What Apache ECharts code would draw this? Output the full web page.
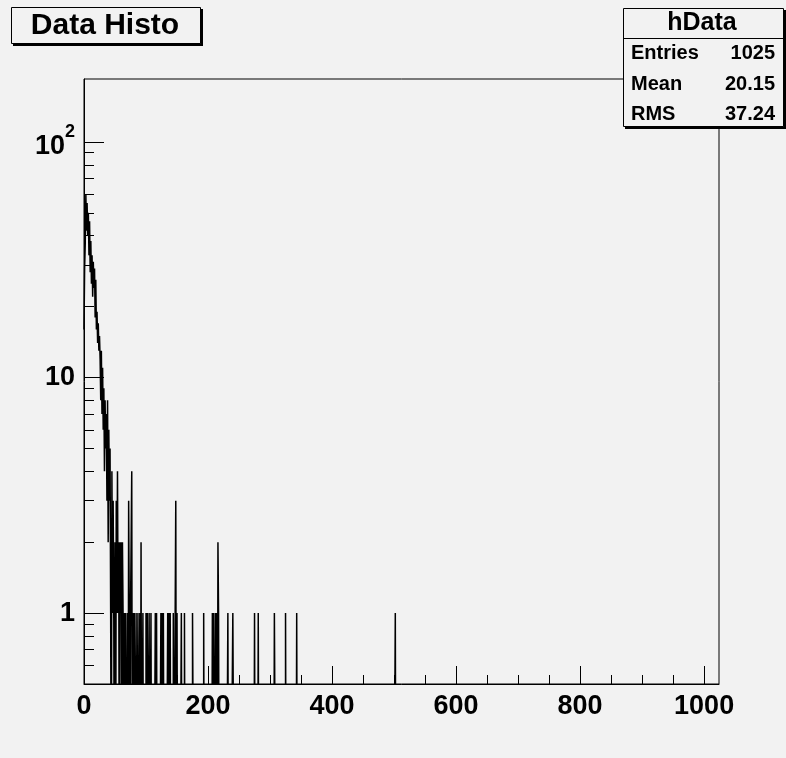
<!DOCTYPE html>
<html>
<head>
<meta charset="utf-8">
<title>Data Histo</title>
<script src="https://cdn.jsdelivr.net/npm/echarts@6/dist/echarts.min.js"></script>
<style>
html, body { margin: 0; padding: 0; background: #f2f2f2; }
#main { width: 786px; height: 758px; }
</style>
</head>
<body>
<div id="main"></div>
<script>
//hData: 1024 bins of width 1 from 0 to 1024
var nBins = 1024;
var xMin = 0;
var xMax = 1024;
var yMin = 0.5;
var yMax = 185;

//bin contents, bins 0..98
var headCounts = [16, 29, 37, 60, 42, 55, 40, 50, 33, 46,
	28, 38, 25, 33, 22, 31, 24, 29, 18, 26,
	16, 19, 14, 17, 13, 15, 12, 8, 13, 7,
	11, 6, 9, 4, 8, 5, 7, 3, 8, 2,
	6, 3, 5, 1, 0, 4, 1, 3, 1, 0,
	2, 0, 3, 1, 4, 1, 2, 0, 2, 1,
	2, 0, 2, 1, 0, 1, 0, 1, 1, 0,
	1, 0, 3, 1, 0, 1, 1, 4, 0, 1,
	0, 1, 1, 0, 1, 0, 0, 1, 0, 0,
	1, 0, 2, 0, 0, 1, 0, 0, 0];

//sparse tail: bin index and content
var tailBins = [100, 102, 105, 108, 115, 117, 124, 126, 128, 135, 137, 139, 144, 148, 150, 157, 162, 175, 176, 193,
	207, 209, 210, 212, 214, 216, 217, 232, 240, 241, 275, 281, 307, 308, 325, 343, 502];
var tailCounts = [1, 1, 1, 1, 1, 1, 1, 1, 1, 1, 1, 1, 1, 3, 1, 1, 1, 1, 1, 1,
	1, 1, 1, 1, 1, 2, 1, 1, 1, 1, 1, 1, 1, 1, 1, 1, 1];

//axis ticks
var xMajorTicks = [0, 200, 400, 600, 800, 1000];
var xMinorTicks = [50, 100, 150, 250, 300, 350, 450, 500, 550, 650, 700, 750, 850, 900, 950];
var yMajorTicks = [1, 10, 100];
var yMinorTicks = [0.6, 0.7, 0.8, 0.9, 2, 3, 4, 5, 6, 7, 8, 9, 20, 30, 40, 50, 60, 70, 80, 90];

//stats box
var statTitle = 'hData';
var statNames = ['Entries', 'Mean', 'RMS'];
var statValues = ['1025', '20.15', '37.24'];
var histTitle = 'Data Histo';

var FONT = '"Liberation Sans", Arial, sans-serif';
var BG = '#f2f2f2';

//full bin table
var counts = [];
for(var i = 0; i < nBins; i++) {
	counts.push(i < headCounts.length ? headCounts[i] : 0);
}
for(var k = 0; k < tailBins.length; k++) {
	counts[tailBins[k]] = tailCounts[k];
}
//empty bins fall below the frame, like ROOT log plots
var emptyLevel = 0.1;
var binWidth = (xMax - xMin) / nBins;
var stepData = [];
for(var i = 0; i < nBins; i++) {
	stepData.push([xMin + i * binWidth, counts[i] > 0 ? counts[i] : emptyLevel]);
}
stepData.push([xMax, stepData[nBins - 1][1]]);

var labelStyle = {
	color: '#000',
	fontSize: 27,
	fontWeight: 'bold',
	fontFamily: FONT
};

var graphics = [
	//title box
	{ type: 'rect', z: 100, shape: { x: 13, y: 9, width: 190, height: 37 }, style: { fill: '#000' } },
	{ type: 'rect', z: 101, shape: { x: 11.5, y: 7.5, width: 189, height: 36 }, style: { fill: BG, stroke: '#000', lineWidth: 1 } },
	{ type: 'text', z: 102, x: 105, y: 26, style: { text: histTitle, font: 'bold 30px ' + FONT, fill: '#000', align: 'center', verticalAlign: 'middle' } },
	//stats box
	{ type: 'rect', z: 100, shape: { x: 625, y: 10, width: 161, height: 119 }, style: { fill: '#000' } },
	{ type: 'rect', z: 101, shape: { x: 623.5, y: 8.5, width: 160, height: 118 }, style: { fill: BG, stroke: '#000', lineWidth: 1 } },
	{ type: 'line', z: 102, shape: { x1: 623.5, y1: 38.5, x2: 783.5, y2: 38.5 }, style: { stroke: '#000', lineWidth: 1 } },
	{ type: 'text', z: 102, x: 702, y: 23, style: { text: statTitle, font: 'bold 25px ' + FONT, fill: '#000', align: 'center', verticalAlign: 'middle' } }
];
var rowY = [53.5, 84, 114];
for(var r = 0; r < statNames.length; r++) {
	graphics.push({ type: 'text', z: 102, x: 631, y: rowY[r], style: { text: statNames[r], font: 'bold 20px ' + FONT, fill: '#000', align: 'left', verticalAlign: 'middle' } });
	graphics.push({ type: 'text', z: 102, x: 775, y: rowY[r], style: { text: statValues[r], font: 'bold 20px ' + FONT, fill: '#000', align: 'right', verticalAlign: 'middle' } });
}

var myChart = echarts.init(document.getElementById('main'), null, { renderer: 'canvas' });
var option = {
	backgroundColor: BG,
	animation: false,
	grid: {
		left: 84,
		top: 79,
		right: 67,
		bottom: 74,
		show: true,
		borderColor: '#000',
		borderWidth: 1,
		backgroundColor: 'transparent',
		outerBoundsMode: 'none'
	},
	xAxis: [{
		type: 'value',
		min: xMin,
		max: xMax,
		position: 'bottom',
		axisLine: { show: true, onZero: false, lineStyle: { color: '#000', width: 1 } },
		axisTick: { show: true, inside: true, length: 18, customValues: xMajorTicks, lineStyle: { color: '#000' } },
		axisLabel: Object.assign({
			customValues: xMajorTicks,
			margin: 9,
			formatter: function(value) {
				return String(value);
			}
		}, labelStyle),
		splitLine: { show: false }
	}, {
		type: 'value',
		min: xMin,
		max: xMax,
		position: 'bottom',
		axisLine: { show: false, onZero: false },
		axisTick: { show: true, inside: true, length: 9, customValues: xMinorTicks, lineStyle: { color: '#000' } },
		axisLabel: { show: false },
		splitLine: { show: false }
	}],
	yAxis: [{
		type: 'log',
		logBase: 10,
		min: yMin,
		max: yMax,
		position: 'left',
		axisLine: { show: true, onZero: false, lineStyle: { color: '#000', width: 1 } },
		axisTick: { show: true, inside: true, length: 20, customValues: yMajorTicks, lineStyle: { color: '#000' } },
		axisLabel: Object.assign({
			customValues: yMajorTicks,
			margin: 9,
			formatter: function(value) {
				if(value >= 100) {
					return '{b|10}{s|2}';
				}
				return String(Math.round(value));
			},
			rich: {
				b: { fontSize: 27, fontWeight: 'bold', fontFamily: FONT, color: '#000', padding: [10, 0, 0, 0], verticalAlign: 'bottom' },
				s: { fontSize: 18, fontWeight: 'bold', fontFamily: FONT, color: '#000', verticalAlign: 'top' }
			}
		}, labelStyle),
		splitLine: { show: false }
	}, {
		type: 'log',
		logBase: 10,
		min: yMin,
		max: yMax,
		position: 'left',
		axisLine: { show: false, onZero: false },
		axisTick: { show: true, inside: true, length: 10, customValues: yMinorTicks, lineStyle: { color: '#000' } },
		axisLabel: { show: false },
		splitLine: { show: false }
	}],
	series: [{
		name: 'hData',
		type: 'line',
		step: 'end',
		xAxisIndex: 0,
		yAxisIndex: 0,
		data: stepData,
		showSymbol: false,
		symbol: 'none',
		clip: true,
		lineStyle: { color: '#000', width: 1.5 },
		emphasis: { disabled: true }
	}],
	graphic: graphics
};
myChart.setOption(option);
</script>
</body>
</html>
